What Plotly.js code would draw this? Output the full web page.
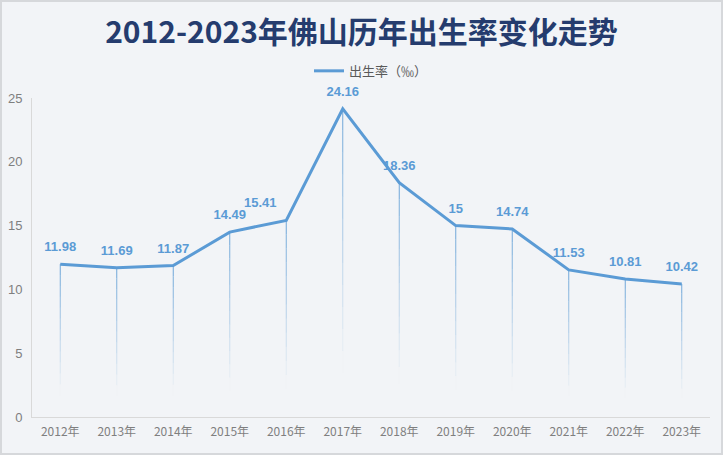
<!DOCTYPE html>
<html><head><meta charset="utf-8">
<script src="https://cdn.plot.ly/plotly-3.0.1.min.js"></script>
<style>
html,body{margin:0;padding:0;background:#f2f4f7;}
#chart{width:723px;height:455px;box-sizing:border-box;border:2px solid #d6d8db;}
</style></head>
<body><div id="chart"></div>
<script>
const years = ['2012年','2013年','2014年','2015年','2016年','2017年','2018年','2019年','2020年','2021年','2022年','2023年'];
const birthRate = [11.98, 11.69, 11.87, 14.49, 15.41, 24.16, 18.36, 15, 14.74, 11.53, 10.81, 10.42];
const rateLabels = ['11.98','11.69','11.87','14.49','15.41','24.16','18.36','15','14.74','11.53','10.81','10.42'];
const seriesName = '出生率（‰）';

const blue = '#5b9bd5';
const shapes = [];
const segs = 14;
years.forEach((yr, i) => {
  const v = birthRate[i];
  for (let k = 0; k < segs; k++) {
    const y1 = v * (1 - k / segs), y0 = v * (1 - (k + 1) / segs);
    shapes.push({type:'line', xref:'x', yref:'y', x0:yr, x1:yr, y0:y0, y1:y1,
      line:{color:blue, width:1}, opacity: Math.max(0.0, 0.85 - 1.0 * k / (segs - 1)), layer:'below'});
  }
});

const textPos = years.map((_, i) => i === 4 ? 'top left' : 'top center');

const lineTrace = {
  x: years, y: birthRate, name: seriesName, type:'scatter', mode:'lines',
  line:{color:blue, width:3}, hoverinfo:'x+y'
};
const labelTrace = {
  x: years, y: birthRate, showlegend:false, type:'scatter', mode:'markers+text',
  marker:{size:14, opacity:0, color:blue},
  text: rateLabels, textposition:textPos, cliponaxis:false,
  textfont:{family:'Liberation Sans, Arial, sans-serif', size:13, color:blue, weight:'bold'},
  hoverinfo:'skip'
};

const layout = {
  width:719, height:451,
  paper_bgcolor:'#f2f4f7', plot_bgcolor:'#f2f4f7',
  margin:{l:30, r:11, t:96, b:36},
  title:{text:'2012-2023年佛山历年出生率变化走势', x:0.5, xanchor:'center', yref:'container', y:0.955, yanchor:'top',
    font:{family:'Noto Sans CJK SC, sans-serif', size:30, color:'#253c6e', weight:'bold'}},
  showlegend:true,
  legend:{orientation:'h', x:0.5, xanchor:'center', y:1.085, yanchor:'middle',
    font:{family:'Noto Sans CJK SC, sans-serif', size:13, color:'#595959'}, bgcolor:'rgba(0,0,0,0)'},
  xaxis:{type:'category', range:[-0.5, 11.5], showgrid:false, zeroline:false, showline:true, linecolor:'#d9d9d9', linewidth:1,
    ticks:'', ticklabelstandoff:4, tickfont:{family:'Noto Sans CJK SC, sans-serif', size:12, color:'#7f7f7f'}, fixedrange:true},
  yaxis:{range:[0,25], dtick:5, showgrid:false, zeroline:false, showline:true, linecolor:'#d9d9d9', linewidth:1,
    ticks:'', ticklabelstandoff:6, tickfont:{family:'Liberation Sans, Arial, sans-serif', size:13, color:'#7f7f7f'}, fixedrange:true},
  shapes: shapes
};
Plotly.newPlot('chart', [lineTrace, labelTrace], layout, {displayModeBar:false, staticPlot:true});
</script></body></html>
